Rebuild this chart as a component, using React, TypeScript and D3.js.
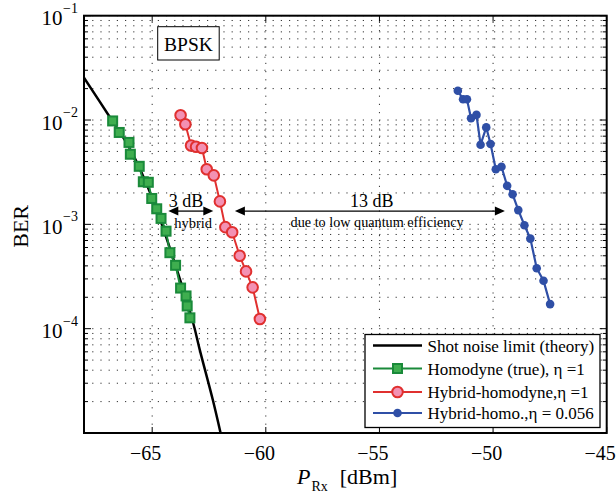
import React from 'react';
import * as d3 from 'd3';

const W = 616;
const H = 494;
const FONT = "'Liberation Serif', 'Times New Roman', serif";

const xDomain: [number, number] = [-68, -45];
const yDomain: [number, number] = [1e-5, 1e-1];
const xTicks = [-65, -60, -55, -50, -45];
const xTickLabels = ['−65', '−60', '−55', '−50', '−45'];
const yMajor = [1e-1, 1e-2, 1e-3, 1e-4];
const yTickExp = ['−1', '−2', '−3', '−4'];

// Shot noise limit (theory)
const theoryP = [-68.03, -66.78, -66.0, -65.0, -64.0, -63.19, -62.9, -62.33, -61.99];
const theoryBER = [2.6e-2, 1.0e-2, 5.4e-3, 1.8e-3, 4.2e-4, 1.12e-4, 6.2e-5, 2.07e-5, 1.0e-5];

// Homodyne (true), eta = 1
const homP = [-66.74, -66.45, -66.02, -65.96, -65.57, -65.39, -65.17, -65.02, -64.8, -64.61, -64.39, -64.22, -63.97, -63.75, -63.51, -63.46, -63.34];
const homBER = [9.8e-3, 7.6e-3, 6.1e-3, 4.7e-3, 3.6e-3, 2.56e-3, 2.53e-3, 1.77e-3, 1.41e-3, 1.14e-3, 8.6e-4, 5.35e-4, 4.05e-4, 2.45e-4, 2.06e-4, 1.65e-4, 1.27e-4];

// Hybrid-homodyne, eta = 1
const hybP = [-63.75, -63.54, -63.29, -63.07, -62.81, -62.6, -62.29, -62.02, -61.78, -61.48, -61.15, -60.87, -60.58, -60.26];
const hybBER = [1.11e-2, 9.1e-3, 5.7e-3, 5.55e-3, 5.4e-3, 3.37e-3, 2.95e-3, 1.66e-3, 9.4e-4, 8.4e-4, 5.0e-4, 3.54e-4, 2.49e-4, 1.24e-4];

// Hybrid-homo., eta = 0.056
const lowP = [-51.55, -51.32, -51.15, -50.97, -50.73, -50.55, -50.3, -50.11, -49.88, -49.63, -49.38, -49.14, -48.89, -48.62, -48.36, -48.08, -47.78, -47.49];
const lowBER = [1.91e-2, 1.58e-2, 1.58e-2, 1.04e-2, 1.12e-2, 5.8e-3, 8.5e-3, 5.9e-3, 3.37e-3, 3.57e-3, 2.34e-3, 1.94e-3, 1.37e-3, 9.8e-4, 7.3e-4, 3.8e-4, 2.88e-4, 1.72e-4];

const legendLabels = [
  'Shot noise limit (theory)',
  'Homodyne (true), η =1',
  'Hybrid-homodyne,η =1',
  'Hybrid-homo.,η = 0.056',
];

const GREEN = '#1a8a3a';
const GREEN_FILL = '#3fae4f';
const RED = '#e0302f';
const RED_FILL = '#f391b3';
const BLUE = '#2f4fa6';

const zip = (a: number[], b: number[]) => a.map((v, i) => [v, b[i]] as [number, number]);

export default function App() {
  const left = 84, right = 606.7, top = 15.7, bottom = 433;
  const x = d3.scaleLinear().domain(xDomain).range([left, right]);
  const y = d3.scaleLog().domain(yDomain).range([bottom, top]);

  const line = d3.line<[number, number]>().x(d => x(d[0])).y(d => y(d[1]));
  const theoryLine = d3.line<[number, number]>().x(d => x(d[0])).y(d => y(d[1])).curve(d3.curveCatmullRom.alpha(0.5));

  const theory = zip(theoryP, theoryBER);
  const hom = zip(homP, homBER);
  const hyb = zip(hybP, hybBER);
  const low = zip(lowP, lowBER);

  const yGrid: number[] = [];
  for (let k = -5; k <= -2; k++) {
    for (let m = 1; m <= 9; m++) yGrid.push(m * Math.pow(10, k));
  }
  yGrid.push(1e-1);
  const yMinor = yGrid.filter(v => !yMajor.some(m => Math.abs(m - v) / m < 1e-9));

  const arrowHead = (xt: number, yt: number, dir: number) => {
    const L = 10, hw = 4.5;
    return `M${xt},${yt}L${xt - dir * L},${yt - hw}L${xt - dir * L},${yt + hw}Z`;
  };

  const arrY = y(1.34e-3);
  const a1 = [x(-64.29), x(-62.31)];
  const a2 = [x(-61.36), x(-49.48)];

  const legX0 = 365, legY0 = 334.5, legW = 235, legH = 93;
  const rowY = [345.5, 368.5, 392, 413];
  const sx0 = 373, sx1 = 422, sxm = (sx0 + sx1) / 2;

  return (
    <svg width={W} height={H} style={{ position: 'absolute', left: 0, top: 0, background: '#fff' }} fontFamily={FONT}>
      <rect x={0} y={0} width={W} height={H} fill="#fff" />
      <defs>
        <clipPath id="plotClip">
          <rect x={left} y={top} width={right - left} height={bottom - top} />
        </clipPath>
      </defs>

      {/* grid */}
      <g stroke="#333" strokeWidth={1} strokeDasharray="1.2,7" fill="none">
        {yGrid.map((v, i) => (
          <line key={'hg' + i} x1={left} x2={right} y1={y(v)} y2={y(v)} />
        ))}
        {xTicks.filter(t => t < xDomain[1]).map((t, i) => (
          <line key={'vg' + i} x1={x(t)} x2={x(t)} y1={bottom} y2={top} />
        ))}
      </g>

      <g clipPath="url(#plotClip)">
        <path d={theoryLine(theory) || ''} fill="none" stroke="#000" strokeWidth={2.5} />
        <path d={line(hom) || ''} fill="none" stroke={GREEN} strokeWidth={2} />
        {hom.map((d, i) => (
          <rect key={'g' + i} x={x(d[0]) - 4.5} y={y(d[1]) - 4.5} width={9} height={9} fill={GREEN_FILL} stroke={GREEN} strokeWidth={2} />
        ))}
        <path d={line(hyb) || ''} fill="none" stroke={RED} strokeWidth={2} />
        {hyb.map((d, i) => (
          <circle key={'r' + i} cx={x(d[0])} cy={y(d[1])} r={5.3} fill={RED_FILL} stroke={RED} strokeWidth={2} />
        ))}
        <path d={line(low) || ''} fill="none" stroke={BLUE} strokeWidth={2.2} />
        {low.map((d, i) => (
          <circle key={'b' + i} cx={x(d[0])} cy={y(d[1])} r={4.3} fill={BLUE} />
        ))}
      </g>

      {/* annotations */}
      <g fill="#000" stroke="#000">
        <line x1={a1[0] + 8} x2={a1[1] - 8} y1={arrY} y2={arrY} strokeWidth={1.3} />
        <path d={arrowHead(a1[0], arrY, -1)} stroke="none" />
        <path d={arrowHead(a1[1], arrY, 1)} stroke="none" />
        <line x1={a2[0] + 8} x2={a2[1] - 8} y1={arrY} y2={arrY} strokeWidth={1.3} />
        <path d={arrowHead(a2[0], arrY, -1)} stroke="none" />
        <path d={arrowHead(a2[1], arrY, 1)} stroke="none" />
      </g>
      <g fill="#000" textAnchor="middle">
        <text x={x(-63.51)} y={206.5} fontSize={18}>3 dB</text>
        <text x={x(-63.2)} y={228} fontSize={14.5}>hybrid</text>
        <text x={x(-55.34)} y={206.5} fontSize={18}>13 dB</text>
        <text x={x(-55.1)} y={227} fontSize={14.2}>due to low quantum efficiency</text>
      </g>

      {/* BPSK box */}
      <rect x={157.7} y={26.7} width={61.5} height={33.3} fill="#fff" stroke="#000" strokeWidth={1} />
      <text x={188.5} y={50.5} fontSize={19.5} textAnchor="middle">BPSK</text>

      {/* legend */}
      <rect x={legX0} y={legY0} width={legW} height={legH} fill="#fff" stroke="#000" strokeWidth={1.3} />
      <line x1={sx0} x2={sx1} y1={rowY[0]} y2={rowY[0]} stroke="#000" strokeWidth={2.5} />
      <line x1={sx0} x2={sx1} y1={rowY[1]} y2={rowY[1]} stroke={GREEN} strokeWidth={2} />
      <rect x={sxm - 4.5} y={rowY[1] - 4.5} width={9} height={9} fill={GREEN_FILL} stroke={GREEN} strokeWidth={2} />
      <line x1={sx0} x2={sx1} y1={rowY[2]} y2={rowY[2]} stroke={RED} strokeWidth={2} />
      <circle cx={sxm} cy={rowY[2]} r={5.3} fill={RED_FILL} stroke={RED} strokeWidth={2} />
      <line x1={sx0} x2={sx1} y1={rowY[3]} y2={rowY[3]} stroke={BLUE} strokeWidth={2.2} />
      <circle cx={sxm} cy={rowY[3]} r={4.3} fill={BLUE} />
      {legendLabels.map((t, i) => (
        <text key={'lt' + i} x={427.5} y={rowY[i] + 6} fontSize={17} fill="#000">{t}</text>
      ))}

      {/* axes frame */}
      <rect x={left} y={top} width={right - left} height={bottom - top} fill="none" stroke="#000" strokeWidth={2} />
      <g stroke="#000" strokeWidth={1}>
        {xTicks.map((t, i) => (
          <g key={'xt' + i}>
            <line x1={x(t)} x2={x(t)} y1={bottom} y2={bottom - 6} />
            <line x1={x(t)} x2={x(t)} y1={top} y2={top + 6} />
          </g>
        ))}
        {yMajor.map((v, i) => (
          <g key={'ytM' + i}>
            <line x1={left} x2={left + 7} y1={y(v)} y2={y(v)} />
            <line x1={right} x2={right - 7} y1={y(v)} y2={y(v)} />
          </g>
        ))}
        {yMinor.map((v, i) => (
          <g key={'ytm' + i}>
            <line x1={left} x2={left + 4} y1={y(v)} y2={y(v)} />
            <line x1={right} x2={right - 4} y1={y(v)} y2={y(v)} />
          </g>
        ))}
      </g>
      {xTicks.map((t, i) => (
        <text key={'xl' + i} x={x(t) - 6.5} y={460} fontSize={20} textAnchor="middle" fill="#000">{xTickLabels[i]}</text>
      ))}
      {yMajor.map((v, i) => (
        <g key={'yl' + i} fill="#000">
          <text x={62.5} y={y(v) + 9.5} fontSize={21} textAnchor="end">10</text>
          <text x={63} y={y(v) - 3} fontSize={14}>{yTickExp[i]}</text>
        </g>
      ))}
      <text transform={`translate(28,${(top + bottom) / 2 + 2}) rotate(-90)`} fontSize={22} textAnchor="middle" fill="#000">BER</text>
      <text x={297} y={484} fontSize={22} fill="#000">
        <tspan fontStyle="italic">P</tspan>
        <tspan fontSize={14} dy={6.5} dx={1}>Rx</tspan>
        <tspan dy={-6.5} dx={12}>[dBm]</tspan>
      </text>
    </svg>
  );
}
